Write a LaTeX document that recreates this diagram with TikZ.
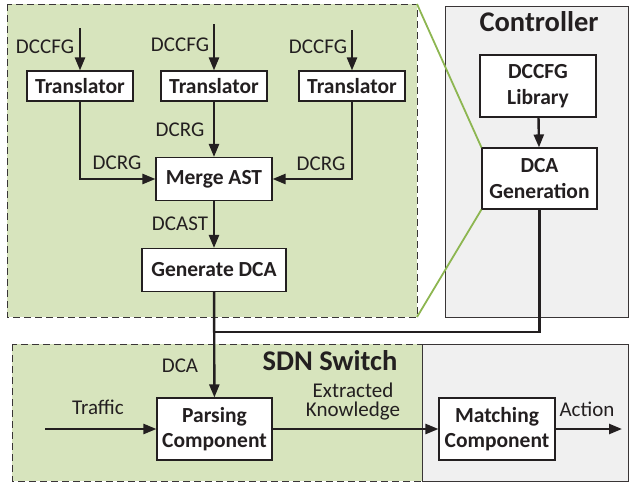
\documentclass[tikz,border=0pt]{standalone}
\usepackage{fontspec}
\setmainfont{Carlito}
\usetikzlibrary{arrows.meta}

\definecolor{panelgreen}{HTML}{D7E4BD}
\definecolor{panelgray}{HTML}{F0F0F0}
\definecolor{zoomgreen}{HTML}{8DB651}
\definecolor{ink}{HTML}{231F20}

\tikzset{
	blk/.style={draw=ink, fill=white, line width=1.1pt, inner sep=0pt, align=center, text=ink,
		font=\fontsize{21.5}{25.5}\selectfont\bfseries},
	lbl/.style={inner sep=0pt, align=center, text=ink, font=\fontsize{21}{19}\selectfont},
	ttl/.style={inner sep=0pt, text=ink, font=\fontsize{28.5}{30}\selectfont\bfseries},
	flow/.style={draw=ink, line width=2.4pt, -{Triangle[length=13pt,width=10pt]}},
	wire/.style={draw=ink, line width=2.4pt},
	panel/.style={draw=ink!90, line width=1pt, dash pattern=on 7pt off 4pt, fill=panelgreen},
	host/.style={draw=ink!90, line width=1pt, fill=panelgray},
}

\begin{document}
\begin{tikzpicture}[x=1pt,y=-1pt]
	\useasboundingbox (0,0) rectangle (629,482);

	% panels
	\draw[host] (445,6) rectangle (628,317);
	\draw[panel] (7,4) rectangle (417,317);
	\draw[host] (422,344) rectangle (628,481);
	\draw[panel] (12,344) rectangle (422,481);

	\node[ttl] (ctrltitle) at (539,22) {Controller};
	\node[ttl] (sdntitle) at (330,361) {SDN Switch};

	% blocks
	\node[blk, minimum width=106pt, minimum height=30pt] (tr1) at (80,86) {Translator};
	\node[blk, minimum width=106pt, minimum height=30pt] (tr2) at (214,86) {Translator};
	\node[blk, minimum width=106pt, minimum height=30pt] (tr3) at (352,86) {Translator};
	\node[blk, minimum width=116pt, minimum height=43pt] (merge) at (214,179) {Merge AST};
	\node[blk, minimum width=144pt, minimum height=43pt] (gen) at (214,270) {Generate DCA};
	\node[blk, minimum width=116pt, minimum height=62pt] (lib) at (538,86) {DCCFG\\Library};
	\node[blk, minimum width=115pt, minimum height=61pt] (dcagen) at (539.5,178.5) {DCA\\Generation};
	\node[blk, minimum width=115pt, minimum height=62pt] (parse) at (214.5,429) {Parsing\\Component};
	\node[blk, minimum width=116pt, minimum height=62pt] (match) at (497,429) {Matching\\Component};

	% zoom lines
	\draw[zoomgreen, line width=1.8pt] (417,4) -- (dcagen.north west);
	\draw[zoomgreen, line width=1.8pt] (dcagen.south west) -- (417,317);

	\coordinate (in1) at (80,28);
	\coordinate (in2) at (214,24);
	\coordinate (in3) at (352,30);
	\coordinate (join) at (214,332);
	\coordinate (trafficin) at (45,429);
	\coordinate (actout) at (622,429);

	% connectors
	\draw[flow] (in1) -- (tr1);
	\draw[flow] (in2) -- (tr2);
	\draw[flow] (in3) -- (tr3);
	\draw[flow] (tr1.south) |- (merge.west);
	\draw[flow] (tr2) -- (merge);
	\draw[flow] (tr3.south) |- (merge.east);
	\draw[flow] (merge) -- (gen);
	\draw[flow] (gen) -- (parse);
	\draw[flow] (lib) -- (dcagen);
	\draw[wire] (dcagen.south) |- (join);
	\draw[flow] (trafficin) -- (parse);
	\draw[flow] (parse) -- (match);
	\draw[flow] (match) -- (actout);

	% labels
	\node[lbl] (l1) at (45,47) {DCCFG};
	\node[lbl] (l2) at (180,45) {DCCFG};
	\node[lbl] (l3) at (318,47) {DCCFG};
	\node[lbl] (l4) at (180,130) {DCRG};
	\node[lbl] (l5) at (117,163) {DCRG};
	\node[lbl] (l6) at (321,164) {DCRG};
	\node[lbl] (l7) at (180,224) {DCAST};
	\node[lbl] (l8) at (180,366) {DCA};
	\node[lbl] (l9) at (98,407) {Traffic};
	\node[lbl] (l10) at (353,402) {Extracted\\Knowledge};
	\node[lbl] (l11) at (587,409) {Action};
\end{tikzpicture}
\end{document}
